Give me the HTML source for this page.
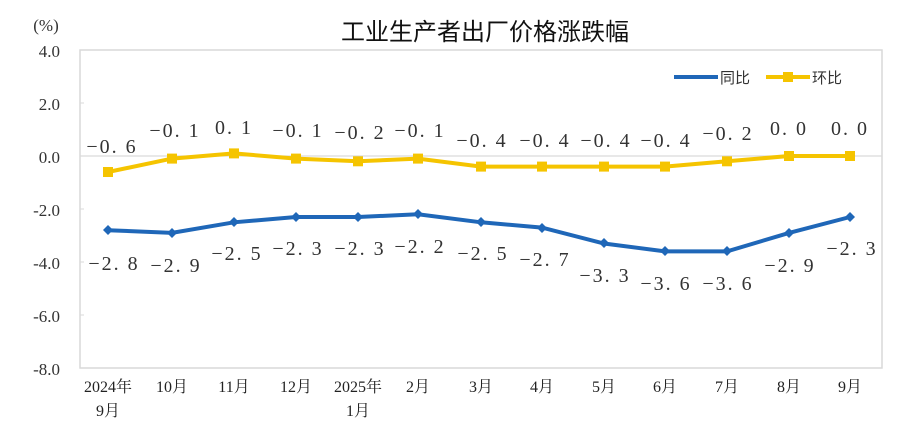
<!DOCTYPE html>
<html><head><meta charset="utf-8"><style>body{margin:0;background:#fff}svg{display:block}</style></head><body>
<svg width="900" height="431" xmlns="http://www.w3.org/2000/svg">
<rect width="900" height="431" fill="#fff"/>
<text x="485" y="40" text-anchor="middle" font-family="Liberation Sans,'Noto Sans CJK SC',sans-serif" font-size="24" fill="#111">工业生产者出厂价格涨跌幅</text>
<text x="46" y="31" text-anchor="middle" font-family="Liberation Serif,serif" font-size="17" fill="#333">(%)</text>
<rect x="80" y="50" width="802" height="318" fill="none" stroke="#d9d9d9" stroke-width="1.5"/>
<line x1="80" y1="156" x2="882" y2="156" stroke="#d9d9d9" stroke-width="1.2"/>
<g stroke="#d9d9d9"><line x1="80" y1="103" x2="84" y2="103"/><line x1="80" y1="209" x2="84" y2="209"/><line x1="80" y1="262" x2="84" y2="262"/><line x1="80" y1="315" x2="84" y2="315"/></g>
<g font-family="Liberation Serif,serif" font-size="17" fill="#333" text-anchor="end">
<text x="60" y="57">4.0</text><text x="60" y="110">2.0</text><text x="60" y="163">0.0</text><text x="60" y="216">-2.0</text><text x="60" y="269">-4.0</text><text x="60" y="322">-6.0</text><text x="60" y="375">-8.0</text>
</g>
<g font-family="Liberation Serif,'Noto Serif CJK SC',serif" font-size="16" fill="#222" text-anchor="middle">
<text x="108" y="392">2024年</text><text x="108" y="416">9月</text>
<text x="172" y="392">10月</text><text x="234" y="392">11月</text><text x="296" y="392">12月</text>
<text x="358" y="392">2025年</text><text x="358" y="416">1月</text>
<text x="418" y="392">2月</text><text x="481" y="392">3月</text><text x="542" y="392">4月</text><text x="604" y="392">5月</text><text x="665" y="392">6月</text><text x="727" y="392">7月</text><text x="789" y="392">8月</text><text x="850" y="392">9月</text>
</g>
<polyline fill="none" stroke="#f5c400" stroke-width="4" points="108,172 172,158.6 234,153.4 296,158.6 358,161.3 418,158.6 481,166.6 542,166.6 604,166.6 665,166.6 727,161.3 789,156 850,156"/>
<g fill="#f5c400">
<rect x="103" y="167" width="10" height="10"/><rect x="167" y="153.6" width="10" height="10"/><rect x="229" y="148.4" width="10" height="10"/><rect x="291" y="153.6" width="10" height="10"/><rect x="353" y="156.3" width="10" height="10"/><rect x="413" y="153.6" width="10" height="10"/><rect x="476" y="161.6" width="10" height="10"/><rect x="537" y="161.6" width="10" height="10"/><rect x="599" y="161.6" width="10" height="10"/><rect x="660" y="161.6" width="10" height="10"/><rect x="722" y="156.3" width="10" height="10"/><rect x="784" y="151" width="10" height="10"/><rect x="845" y="151" width="10" height="10"/>
</g>
<polyline fill="none" stroke="#1f67b8" stroke-width="4" points="108,230.2 172,232.9 234,222.3 296,217 358,217 418,214.3 481,222.3 542,227.6 604,243.5 665,251.4 727,251.4 789,232.9 850,217"/>
<g fill="#1f67b8">
<path d="M108 225l5 5-5 5-5-5z"/><path d="M172 228l5 5-5 5-5-5z"/><path d="M234 217l5 5-5 5-5-5z"/><path d="M296 212l5 5-5 5-5-5z"/><path d="M358 212l5 5-5 5-5-5z"/><path d="M418 209l5 5-5 5-5-5z"/><path d="M481 217l5 5-5 5-5-5z"/><path d="M542 223l5 5-5 5-5-5z"/><path d="M604 238l5 5-5 5-5-5z"/><path d="M665 246l5 5-5 5-5-5z"/><path d="M727 246l5 5-5 5-5-5z"/><path d="M789 228l5 5-5 5-5-5z"/><path d="M850 212l5 5-5 5-5-5z"/>
</g>
<g font-family="Liberation Serif,serif" font-size="20" fill="#333" text-anchor="middle" letter-spacing="2">
<text x="112" y="153">−0. 6</text><text x="175" y="137">−0. 1</text><text x="234" y="134">0. 1</text><text x="298" y="137">−0. 1</text><text x="360" y="139">−0. 2</text><text x="420" y="137">−0. 1</text><text x="482" y="147">−0. 4</text><text x="545" y="147">−0. 4</text><text x="606" y="147">−0. 4</text><text x="666" y="147">−0. 4</text><text x="728" y="140">−0. 2</text><text x="789" y="135">0. 0</text><text x="850" y="135">0. 0</text>
<text x="114" y="270">−2. 8</text><text x="176" y="272">−2. 9</text><text x="237" y="260">−2. 5</text><text x="298" y="255">−2. 3</text><text x="360" y="255">−2. 3</text><text x="420" y="253">−2. 2</text><text x="483" y="260">−2. 5</text><text x="545" y="266">−2. 7</text><text x="605" y="282">−3. 3</text><text x="666" y="290">−3. 6</text><text x="728" y="290">−3. 6</text><text x="790" y="272">−2. 9</text><text x="852" y="255">−2. 3</text>
</g>
<line x1="674" y1="77" x2="718" y2="77" stroke="#1f67b8" stroke-width="4"/>
<text x="720" y="83" font-family="Liberation Sans,'Noto Sans CJK SC',sans-serif" font-size="15" fill="#333">同比</text>
<line x1="766" y1="77" x2="810" y2="77" stroke="#f5c400" stroke-width="4"/><rect x="783" y="72" width="10" height="10" fill="#f5c400"/>
<text x="812" y="83" font-family="Liberation Sans,'Noto Sans CJK SC',sans-serif" font-size="15" fill="#333">环比</text>
</svg>
</body></html>
